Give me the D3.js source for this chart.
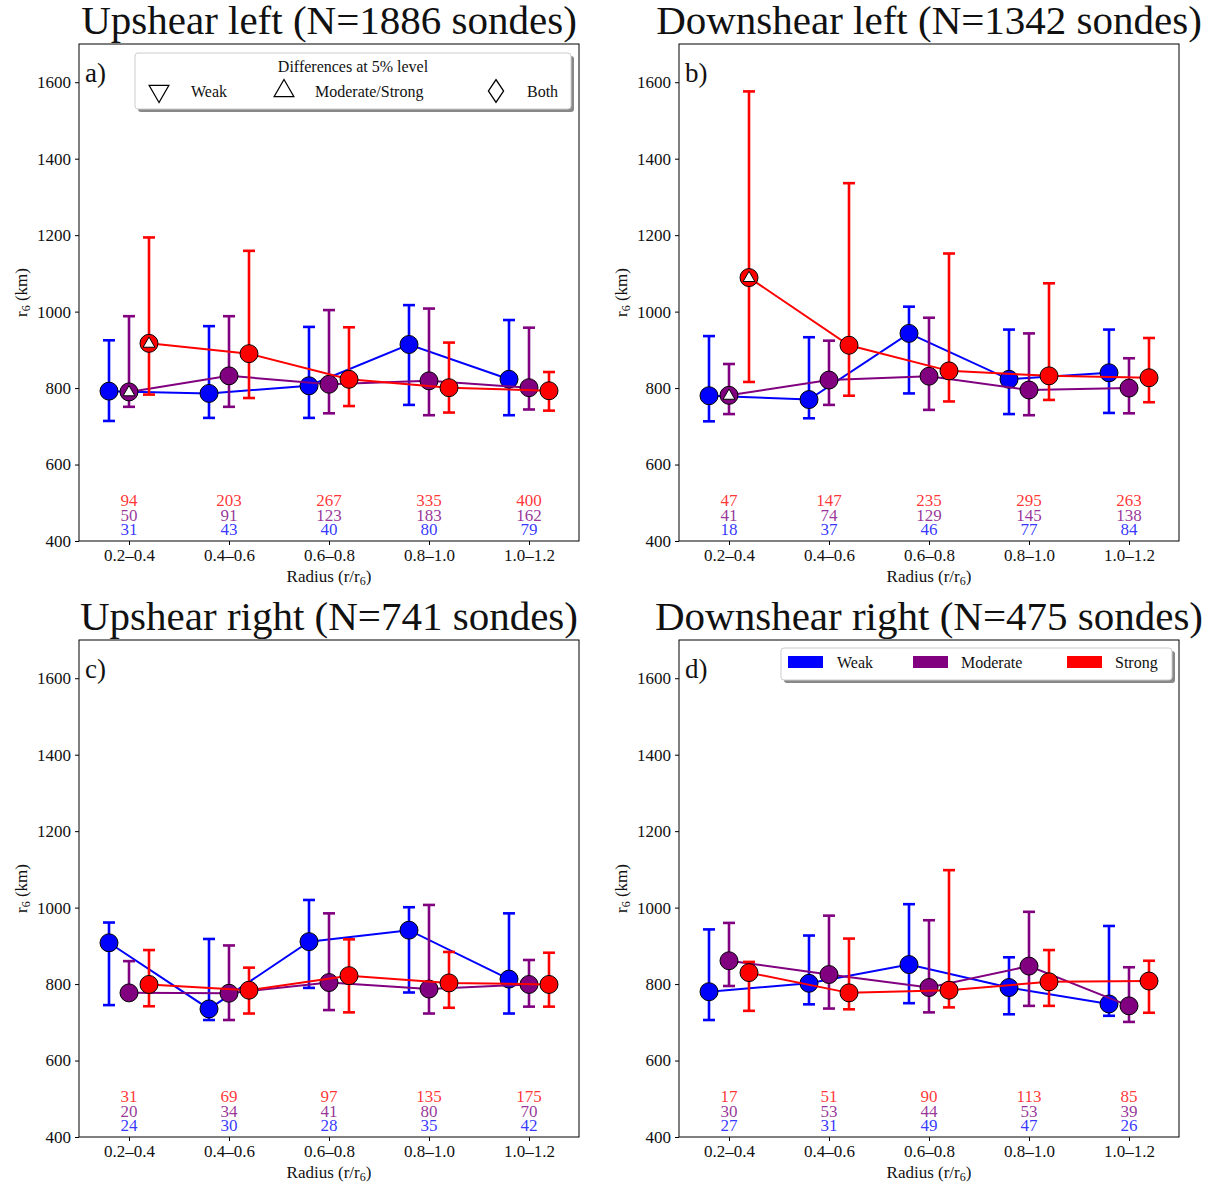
<!DOCTYPE html>
<html>
<head>
<meta charset="utf-8">
<script src="https://cdn.jsdelivr.net/npm/d3@7"></script>
<style>
	body { margin: 0; background: #fff; }
	svg text { font-family: "Liberation Serif", "Times New Roman", serif; }
</style>
</head>
<body>
<div id="chart"></div>
<script>
// radial bins and axis ticks
var bins = ["0.2–0.4", "0.4–0.6", "0.6–0.8", "0.8–1.0", "1.0–1.2"];
var yTicks = [400, 600, 800, 1000, 1200, 1400, 1600];
var intensities = ["Weak", "Moderate", "Strong"];
var colours = ["#0000ff", "#800080", "#ff0000"];

// a) upshear left
var ulWeak = [792, 786, 806, 914, 823];
var ulWeakLo = [714, 722, 722, 756, 729];
var ulWeakHi = [925, 962, 960, 1017, 978];
var ulMod = [790, 832, 810, 819, 801];
var ulModLo = [751, 751, 734, 729, 744];
var ulModHi = [988, 988, 1004, 1008, 958];
var ulStrong = [917, 890, 823, 801, 793];
var ulStrongLo = [783, 774, 753, 736, 741];
var ulStrongHi = [1194, 1159, 959, 919, 842];
var ulCounts = [[31, 43, 40, 80, 79], [50, 91, 123, 183, 162], [94, 203, 267, 335, 400]];
var ulSig = [[], [0], [0]];   // bins with a difference at 5% level (triangle up)

// b) downshear left
var dlWeak = [780, 770, 943, 823, 840];
var dlWeakLo = [713, 721, 786, 732, 735];
var dlWeakHi = [936, 933, 1013, 953, 953];
var dlMod = [781, 821, 831, 795, 800];
var dlModLo = [732, 756, 743, 729, 734];
var dlModHi = [863, 924, 984, 943, 878];
var dlStrong = [1089, 912, 845, 832, 827];
var dlStrongLo = [816, 780, 765, 769, 763];
var dlStrongHi = [1576, 1336, 1152, 1074, 931];
var dlCounts = [[18, 37, 46, 77, 84], [41, 74, 129, 145, 138], [47, 147, 235, 295, 263]];
var dlSig = [[], [0], [0]];

// c) upshear right
var urWeak = [908, 735, 911, 941, 813];
var urWeakLo = [745, 706, 790, 778, 723];
var urWeakHi = [961, 918, 1020, 1001, 985];
var urMod = [777, 776, 804, 787, 799];
var urModLo = [768, 706, 732, 723, 741];
var urModHi = [860, 901, 985, 1007, 863];
var urStrong = [799, 784, 822, 803, 799];
var urStrongLo = [742, 723, 726, 738, 741];
var urStrongHi = [889, 843, 917, 884, 882];
var urCounts = [[24, 30, 28, 35, 42], [20, 34, 41, 80, 70], [31, 69, 97, 135, 175]];
var urSig = [[], [], []];

// d) downshear right
var drWeak = [780, 802, 851, 791, 748];
var drWeakLo = [706, 747, 750, 721, 717];
var drWeakHi = [943, 927, 1009, 870, 952];
var drMod = [861, 825, 791, 847, 743];
var drModLo = [795, 736, 726, 743, 701];
var drModHi = [960, 979, 967, 989, 844];
var drStrong = [830, 777, 784, 806, 808];
var drStrongLo = [730, 734, 739, 743, 725];
var drStrongHi = [858, 919, 1098, 889, 861];
var drCounts = [[27, 31, 49, 47, 26], [30, 53, 44, 53, 39], [17, 51, 90, 113, 85]];
var drSig = [[], [], []];

var panels = [
	{ label: "a)", title: "Upshear left (N=1886 sondes)", x: 79, y: 44,
		mid: [ulWeak, ulMod, ulStrong], lo: [ulWeakLo, ulModLo, ulStrongLo], hi: [ulWeakHi, ulModHi, ulStrongHi],
		counts: ulCounts, sig: ulSig, legend: "sig" },
	{ label: "b)", title: "Downshear left (N=1342 sondes)", x: 679, y: 44,
		mid: [dlWeak, dlMod, dlStrong], lo: [dlWeakLo, dlModLo, dlStrongLo], hi: [dlWeakHi, dlModHi, dlStrongHi],
		counts: dlCounts, sig: dlSig },
	{ label: "c)", title: "Upshear right (N=741 sondes)", x: 79, y: 640,
		mid: [urWeak, urMod, urStrong], lo: [urWeakLo, urModLo, urStrongLo], hi: [urWeakHi, urModHi, urStrongHi],
		counts: urCounts, sig: urSig },
	{ label: "d)", title: "Downshear right (N=475 sondes)", x: 679, y: 640,
		mid: [drWeak, drMod, drStrong], lo: [drWeakLo, drModLo, drStrongLo], hi: [drWeakHi, drModHi, drStrongHi],
		counts: drCounts, sig: drSig, legend: "colour" }
];

var width = 1226;
var height = 1189;
var plotW = 500;
var plotH = 497;
var offsets = [-0.2, 0, 0.2];
var countLevels = [415, 453, 491];
var ink = "#111";

var svg = d3.select("#chart")
	.append("svg")
	.attr("width", width)
	.attr("height", height);

var x = d3.scaleLinear().domain([-0.5, 4.5]).range([0, plotW]);
var y = d3.scaleLinear().domain([400, 1700]).range([plotH, 0]);

panels.forEach(drawPanel);

function drawPanel (p) {
	var g = svg.append("g").attr("transform", "translate(" + p.x + "," + p.y + ")");

	// title
	g.append("text")
		.attr("x", plotW / 2)
		.attr("y", -10)
		.attr("text-anchor", "middle")
		.attr("fill", ink)
		.style("font-size", "41px")
		.text(p.title);

	// axes
	var yAxis = d3.axisLeft(y).tickValues(yTicks).tickFormat(d3.format("d")).tickSize(4).tickPadding(4);
	var xAxis = d3.axisBottom(x).tickValues(d3.range(bins.length))
		.tickFormat(function (i) { return bins[i]; }).tickSize(4).tickPadding(4);

	var ya = g.append("g").call(yAxis);
	var xa = g.append("g").attr("transform", "translate(0," + plotH + ")").call(xAxis);
	[ya, xa].forEach(function (a) {
		a.select(".domain").remove();
		a.selectAll("text").style("font-size", "17px").style("font-family", "Liberation Serif").attr("fill", ink);
		a.selectAll("line").attr("stroke", "#000");
	});

	g.append("rect")
		.attr("width", plotW)
		.attr("height", plotH)
		.attr("fill", "none")
		.attr("stroke", "#000")
		.attr("stroke-width", 1);

	// axis labels
	var xl = g.append("text")
		.attr("x", plotW / 2)
		.attr("y", plotH + 41)
		.attr("text-anchor", "middle")
		.attr("fill", ink)
		.style("font-size", "17px")
		.text("Radius (r/r");
	xl.append("tspan").attr("baseline-shift", "-3").style("font-size", "12px").text("6");
	xl.append("tspan").text(")");

	var yl = g.append("text")
		.attr("transform", "translate(-52," + (plotH / 2) + ") rotate(-90)")
		.attr("text-anchor", "middle")
		.attr("fill", ink)
		.style("font-size", "17px")
		.text("r");
	yl.append("tspan").attr("baseline-shift", "-3").style("font-size", "12px").text("6");
	yl.append("tspan").text(" (km)");

	// panel letter
	g.append("text")
		.attr("x", 6)
		.attr("y", 38)
		.attr("fill", ink)
		.style("font-size", "27px")
		.text(p.label);

	// sample counts
	p.counts.forEach(function (row, s) {
		g.selectAll(".count" + s)
			.data(row)
			.enter()
			.append("text")
			.attr("x", function (d, i) { return x(i); })
			.attr("y", y(countLevels[s]))
			.attr("text-anchor", "middle")
			.style("font-size", "17px")
			.attr("fill", colours[s])
			.attr("fill-opacity", 0.8)
			.text(function (d) { return d; });
	});

	// series: error bars, line, markers
	var line = d3.line()
		.x(function (d) { return x(d.i + d.off); })
		.y(function (d) { return y(d.v); });

	intensities.forEach(function (name, s) {
		var pts = p.mid[s].map(function (v, i) {
			return { i: i, off: offsets[s], v: v, lo: p.lo[s][i], hi: p.hi[s][i] };
		});
		var sg = g.append("g");

		var eb = sg.selectAll(".eb")
			.data(pts)
			.enter()
			.append("g")
			.attr("stroke", colours[s])
			.attr("stroke-width", 2.6);
		eb.append("line")
			.attr("x1", function (d) { return x(d.i + d.off); })
			.attr("x2", function (d) { return x(d.i + d.off); })
			.attr("y1", function (d) { return y(d.lo); })
			.attr("y2", function (d) { return y(d.hi); });
		["lo", "hi"].forEach(function (k) {
			eb.append("line")
				.attr("x1", function (d) { return x(d.i + d.off) - 6; })
				.attr("x2", function (d) { return x(d.i + d.off) + 6; })
				.attr("y1", function (d) { return y(d[k]); })
				.attr("y2", function (d) { return y(d[k]); });
		});

		sg.append("path")
			.datum(pts)
			.attr("d", line)
			.attr("fill", "none")
			.attr("stroke", colours[s])
			.attr("stroke-width", 2);

		sg.selectAll(".dot")
			.data(pts)
			.enter()
			.append("circle")
			.attr("cx", function (d) { return x(d.i + d.off); })
			.attr("cy", function (d) { return y(d.v); })
			.attr("r", 9)
			.attr("fill", colours[s])
			.attr("stroke", "#000")
			.attr("stroke-width", 1);

		sg.selectAll(".sig")
			.data(pts.filter(function (d) { return p.sig[s].indexOf(d.i) >= 0; }))
			.enter()
			.append("path")
			.attr("d", d3.symbol(d3.symbolTriangle, 60))
			.attr("transform", function (d) { return "translate(" + x(d.i + d.off) + "," + (y(d.v) + 0.5) + ")"; })
			.attr("fill", "#fff")
			.attr("stroke", "#000")
			.attr("stroke-width", 1);
	});

	if (p.legend === "sig") drawSigLegend(g);
	if (p.legend === "colour") drawColourLegend(g);
}

function legendBox (g, bx, by, bw, bh) {
	g.append("rect")
		.attr("x", bx + 3).attr("y", by + 3)
		.attr("width", bw).attr("height", bh)
		.attr("rx", 3)
		.attr("fill", "#888");
	g.append("rect")
		.attr("x", bx).attr("y", by)
		.attr("width", bw).attr("height", bh)
		.attr("rx", 3)
		.attr("fill", "#fff")
		.attr("stroke", "#ccc")
		.attr("stroke-width", 1);
}

function drawSigLegend (g) {
	var bx = 56, by = 9;
	legendBox(g, bx, by, 436, 56);
	g.append("text")
		.attr("x", bx + 218)
		.attr("y", by + 19)
		.attr("text-anchor", "middle")
		.attr("fill", ink)
		.style("font-size", "16px")
		.text("Differences at 5% level");

	var items = [
		{ sym: d3.symbolTriangle, rot: 180, mx: 24, tx: 56, text: "Weak" },
		{ sym: d3.symbolTriangle, rot: 0, mx: 149, tx: 180, text: "Moderate/Strong" },
		{ sym: d3.symbolDiamond, rot: 0, mx: 361, tx: 392, text: "Both" }
	];
	items.forEach(function (it) {
		g.append("path")
			.attr("d", d3.symbol(it.sym, it.sym === d3.symbolDiamond ? 150 : 170))
			.attr("transform", "translate(" + (bx + it.mx) + "," + (by + 38) + ") rotate(" + it.rot + ")" +
				(it.sym === d3.symbolDiamond ? " scale(1.15,1)" : ""))
			.attr("fill", "none")
			.attr("stroke", "#000")
			.attr("stroke-width", 1.2);
		g.append("text")
			.attr("x", bx + it.tx)
			.attr("y", by + 44)
			.attr("fill", ink)
			.style("font-size", "16px")
			.text(it.text);
	});
}

function drawColourLegend (g) {
	var bx = 102, by = 8;
	legendBox(g, bx, by, 391, 32);
	var patchX = [7, 132, 286];
	var textX = [56, 180, 334];
	intensities.forEach(function (name, s) {
		g.append("rect")
			.attr("x", bx + patchX[s])
			.attr("y", by + 8)
			.attr("width", 35)
			.attr("height", 12)
			.attr("fill", colours[s]);
		g.append("text")
			.attr("x", bx + textX[s])
			.attr("y", by + 20)
			.attr("fill", ink)
			.style("font-size", "16px")
			.text(name);
	});
}
</script>
</body>
</html>
